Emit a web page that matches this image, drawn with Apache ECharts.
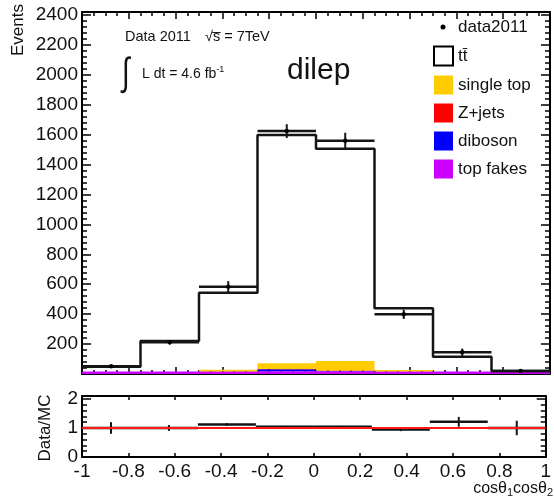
<!DOCTYPE html>
<html>
<head>
<meta charset="utf-8">
<script src="https://cdn.jsdelivr.net/npm/echarts@6/dist/echarts.min.js"></script>
<style>html,body{margin:0;padding:0;background:#fff;}#c{width:554px;height:499px;}</style>
</head>
<body>
<div id="c"></div>
<script>
// ---- data ----
const binEdges   = [-1, -0.75, -0.5, -0.25, 0, 0.25, 0.5, 0.75, 1];
const dataVals   = [52, 212, 584, 1624, 1560, 399, 145, 20];
const dataErr    = [8, 15, 37, 46, 53, 31, 25, 6];
const mcVals     = [48, 220, 543, 1598, 1506, 439, 116, 20];
const topFakes   = [17, 17, 16, 18, 18, 16, 17, 16];
const diboson    = [0, 0, 1, 13, 2, 0, 0, 0];
const zJets      = [0, 0, 1, 2, 3, 2, 0, 0];
const singleTop  = [0, 0, 10, 39, 64, 9, 0, 0];
const ratioVals  = [1.0, 1.0, 1.12, 1.04, 1.04, 0.95, 1.21, 1.0];
const ratioErr   = [0.2, 0.1, 0.05, 0.03, 0.03, 0.06, 0.17, 0.25];
const xTicks     = [-1, -0.8, -0.6, -0.4, -0.2, 0, 0.2, 0.4, 0.6, 0.8, 1];
const yTicksMain = [200, 400, 600, 800, 1000, 1200, 1400, 1600, 1800, 2000, 2200, 2400];
const yTicksRatio= [0, 1, 2];
const legendNames= ['data2011', 'tt\u0304', 'single top', 'Z+jets', 'diboson', 'top fakes'];

const FONT = 'Liberation Sans, Arial, Helvetica, sans-serif';
const colors = {single:'#ffcc00', z:'#ff0000', dib:'#0000ff', fakes:'#cc00ff', line:'#151515'};

const chart = echarts.init(document.getElementById('c'), null, {renderer:'canvas'});

// build stacked background items [lo, hi, base, top]
const stackOrder = [topFakes, diboson, zJets, singleTop];
const cum = binEdges.slice(0, -1).map(() => 0);
const stackData = stackOrder.map(arr => arr.map((v, i) => {
  const base = cum[i]; cum[i] += v;
  return [binEdges[i], binEdges[i+1], base, cum[i]];
}));
const stackColors = [colors.fakes, colors.dib, colors.z, colors.single];
const stackNames = ['top fakes', 'diboson', 'Z+jets', 'single top'];

function rectItem(color) {
  return function(params, api) {
    const p0 = api.coord([api.value(0), api.value(3)]);
    const p1 = api.coord([api.value(1), api.value(2)]);
    return {type:'rect', shape:{x:p0[0], y:p0[1], width:p1[0]-p0[0], height:Math.max(p1[1]-p0[1], 0)},
            style:{fill:color}};
  };
}

function errItem(lw, showDot) {
  return function(params, api) {
    const lo = api.value(0), hi = api.value(1), v = api.value(2), e = api.value(3);
    const mid = (lo + hi) / 2;
    const a = api.coord([lo, v]), b = api.coord([hi, v]);
    const c1 = api.coord([mid, v - e]), c2 = api.coord([mid, v + e]);
    const children = [
      {type:'line', shape:{x1:a[0], y1:a[1], x2:b[0], y2:b[1]}, style:{stroke:colors.line, lineWidth:lw}},
      {type:'line', shape:{x1:c1[0], y1:c1[1], x2:c2[0], y2:c2[1]}, style:{stroke:colors.line, lineWidth:2}}
    ];
    if (showDot) {
      const m = api.coord([mid, v]);
      children.push({type:'circle', shape:{cx:m[0], cy:m[1], r:2.2}, style:{fill:'#000'}});
    }
    return {type:'group', children};
  };
}

const mcStep = binEdges.map((x, i) => [x, mcVals[Math.min(i, mcVals.length - 1)]]);
const dataItems = dataVals.map((v, i) => [binEdges[i], binEdges[i+1], v, dataErr[i]]);
const ratioItems = ratioVals.map((v, i) => [binEdges[i], binEdges[i+1], v, ratioErr[i]]);

function xAx(grid, pos, labels, majLen, minor) {
  return {
    type:'value', gridIndex:grid, position:pos, min:-1, max:1, interval:0.2,
    axisLine:{show:true, onZero:false, lineStyle:{color:'#000', width:2}},
    axisTick:{show:true, inside:true, length:majLen, lineStyle:{color:'#000', width:1.5}},
    minorTick:{show:minor, splitNumber:4, length:4, lineStyle:{color:'#000', width:1.5}},
    splitLine:{show:false},
    axisLabel:{show:labels, margin:5, color:'#111', fontFamily:FONT, fontSize:19,
      formatter:v => { const t = xTicks.find(k => Math.abs(k - v) < 1e-6); return t === undefined ? '' : String(t); }}
  };
}
function yAx(grid, pos, labels, max, interval, tickList) {
  return {
    type:'value', gridIndex:grid, position:pos, min:0, max:max, interval:interval,
    axisLine:{show:true, onZero:false, lineStyle:{color:'#000', width:2}},
    axisTick:{show:true, inside:true, length:9, lineStyle:{color:'#000', width:1.5}},
    minorTick:{show:true, splitNumber:5, length:5, lineStyle:{color:'#000', width:1.5}},
    splitLine:{show:false},
    axisLabel:{show:labels, margin:4, color:'#111', fontFamily:FONT, fontSize:19,
      formatter:v => tickList.some(k => Math.abs(k - v) < 1e-6) ? String(v) : ''}
  };
}

const series = [];
stackData.forEach((d, k) => {
  series.push({type:'custom', name:stackNames[k], xAxisIndex:0, yAxisIndex:0, data:d,
    encode:{x:[0,1], y:[2,3]}, renderItem:rectItem(stackColors[k]), z:2, silent:true});
});
series.push({type:'line', name:'ttbar', xAxisIndex:0, yAxisIndex:0, data:mcStep, step:'end',
  symbol:'none', lineStyle:{color:colors.line, width:2.5}, z:3, silent:true});
series.push({type:'custom', name:'data2011', xAxisIndex:0, yAxisIndex:0, data:dataItems,
  encode:{x:[0,1], y:[2]}, renderItem:errItem(2.5, true), z:4, silent:true});
series.push({type:'custom', name:'ratio', xAxisIndex:2, yAxisIndex:2, data:ratioItems,
  encode:{x:[0,1], y:[2]}, renderItem:errItem(2.5, false), z:3, silent:true});
series.push({type:'line', name:'unity', xAxisIndex:2, yAxisIndex:2, data:[[-1,1],[1,1]],
  symbol:'none', lineStyle:{color:'#ff1a1a', width:2}, z:4, silent:true});

// legend / annotations (graphic)
const legendY = [27, 56, 85, 113, 141, 169];
const legendFill = [null, '#fff', colors.single, colors.z, colors.dib, colors.fakes];
const graphics = [];
legendNames.forEach((name, i) => {
  if (i === 0) {
    graphics.push({type:'circle', shape:{cx:443, cy:legendY[i], r:2.5}, style:{fill:'#000'}});
  } else {
    graphics.push({type:'rect', shape:{x:434, y:legendY[i]-9.5, width:19, height:19},
      style:{fill:legendFill[i], stroke: i === 1 ? '#000' : legendFill[i], lineWidth: i === 1 ? 2 : 0}});
  }
  graphics.push({type:'text', x:458, y:legendY[i], style:{text:name, font:'17px ' + FONT, fill:'#111',
    textAlign:'left', textVerticalAlign:'middle'}});
});
graphics.push({type:'text', x:18, y:30, rotation:Math.PI/2, style:{text:'Events', font:'17px ' + FONT,
  fill:'#111', textAlign:'center', textVerticalAlign:'middle'}});
graphics.push({type:'text', x:45, y:428, rotation:Math.PI/2, style:{text:'Data/MC', font:'17px ' + FONT,
  fill:'#111', textAlign:'center', textVerticalAlign:'middle'}});
graphics.push({type:'text', x:125, y:37, style:{text:'Data 2011', font:'14.5px ' + FONT, fill:'#111',
  textAlign:'left', textVerticalAlign:'middle'}});
graphics.push({type:'text', x:205, y:37, style:{text:'\u221As\u0305 = 7TeV', font:'14.5px ' + FONT, fill:'#111',
  textAlign:'left', textVerticalAlign:'middle'}});
graphics.push({type:'text', x:122, y:74, scaleY:1.4, style:{text:'\u222B', font:'28px ' + FONT, fill:'#111',
  textAlign:'left', textVerticalAlign:'middle'}});
graphics.push({type:'text', x:142, y:74, style:{text:'L dt = 4.6 fb{s|-1}', font:'14px ' + FONT, fill:'#111',
  textAlign:'left', textVerticalAlign:'middle', rich:{s:{fontSize:9, verticalAlign:'top', padding:[0,0,8,0], fontFamily:FONT}}}});
graphics.push({type:'text', x:287, y:71, style:{text:'dilep', font:'30px ' + FONT, fill:'#111',
  textAlign:'left', textVerticalAlign:'middle'}});
graphics.push({type:'text', x:553, y:489, style:{text:'cos\u03B8{s|1}cos\u03B8{s|2}', font:'16px ' + FONT, fill:'#111',
  textAlign:'right', textVerticalAlign:'middle', rich:{s:{fontSize:11, fontFamily:FONT, padding:[8,0,0,0]}}}});

chart.setOption({
  animation:false,
  backgroundColor:'#fff',
  grid:[
    {left:82, right:4, top:12, bottom:125, show:false},
    {left:82, right:4, top:396, bottom:42, show:false}
  ],
  xAxis:[
    xAx(0, 'bottom', false, 7, true),
    xAx(0, 'top', false, 7, true),
    xAx(1, 'bottom', true, 4, false),
    xAx(1, 'top', false, 4, false)
  ],
  yAxis:[
    yAx(0, 'left', true, 2420, 200, yTicksMain),
    yAx(0, 'right', false, 2420, 200, []),
    yAx(1, 'left', true, 2.1, 1, yTicksRatio),
    yAx(1, 'right', false, 2.1, 1, [])
  ],
  series:series,
  graphic:graphics
});
</script>
</body>
</html>
